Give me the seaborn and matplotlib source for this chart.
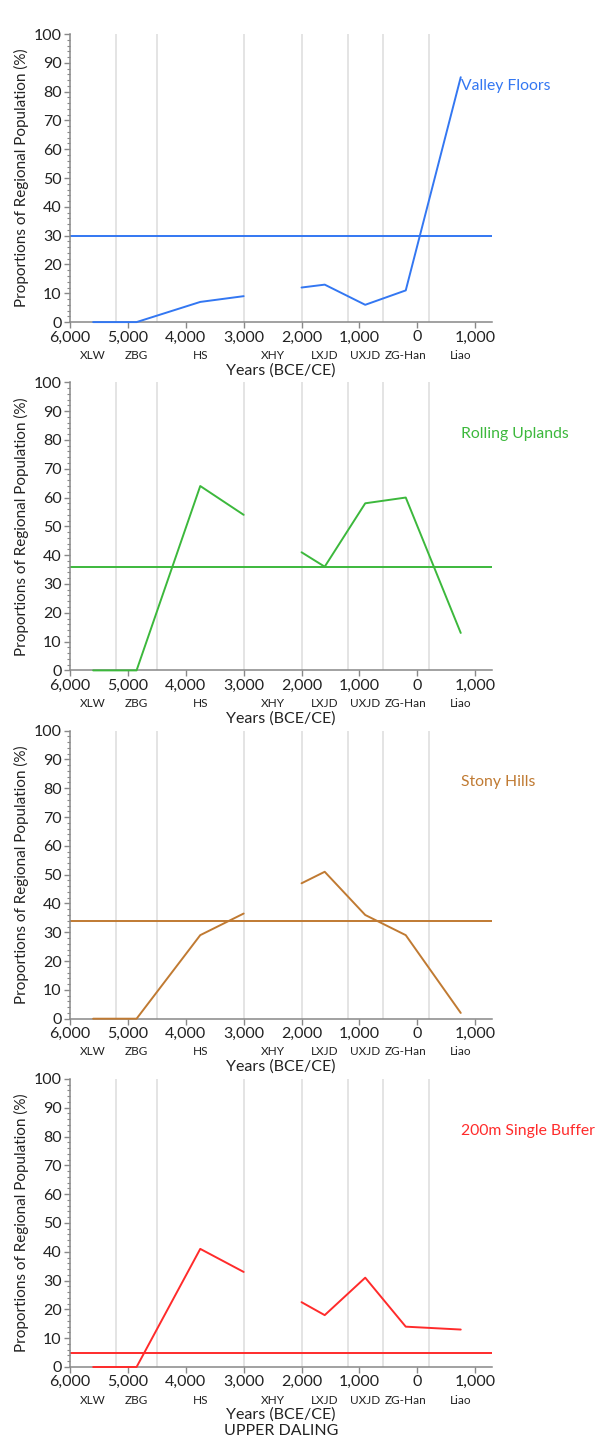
import matplotlib
matplotlib.use("Agg")
import matplotlib.pyplot as plt
from matplotlib.ticker import MultipleLocator, FuncFormatter
import numpy as np
import pandas as pd
import seaborn as sns

# periods (names, boundaries in years BCE<0 / CE>0, label positions)
periods = ["XLW", "ZBG", "HS", "XHY", "LXJD", "UXJD", "ZG-Han", "Liao"]
period_mid = [-5600, -4850, -3750, -2500, -1600, -900, -200, 750]
period_bounds = [-5200, -4500, -3000, -2000, -1200, -600, 200]

# points: XLW, ZBG, HS, end of HS | start of LXJD, LXJD, UXJD, ZG-Han, Liao
years = [-5600, -4850, -3750, -3000, -2000, -1600, -900, -200, 750]
segment = [1, 1, 1, 1, 2, 2, 2, 2, 2]

zones = ["Valley Floors", "Rolling Uplands", "Stony Hills", "200m Single Buffer"]
valley_floors = [0, 0, 7, 9, 12, 13, 6, 11, 85]
rolling_uplands = [0, 0, 64, 54, 41, 36, 58, 60, 13]
stony_hills = [0, 0, 29, 36.5, 47, 51, 36, 29, 2]
single_buffer = [0, 0, 41, 33, 22.5, 18, 31, 14, 13]
zone_share = [30, 36, 34, 5]   # share of regional area (horizontal lines)
colors = ["#3377f2", "#3cb83c", "#c07a32", "#ff2b2b"]

series = [valley_floors, rolling_uplands, stony_hills, single_buffer]

sns.set_style("white")
plt.rcParams["font.family"] = ["Lato", "DejaVu Sans"]

fig, axes = plt.subplots(4, 1, figsize=(6, 14.48), dpi=100)
fig.subplots_adjust(left=70/600, right=492/600, top=1-34/1448,
                    bottom=1-1367/1448, hspace=0.209)

for i, ax in enumerate(axes):
    df = pd.DataFrame({"year": years, "pct": series[i], "seg": segment})
    for b in period_bounds:
        ax.axvline(b, color="#e2e2e2", lw=1.3, zorder=0)
    sns.lineplot(data=df, x="year", y="pct", units="seg", estimator=None,
                 color=colors[i], lw=1.4, ax=ax)
    for ln in ax.get_lines()[-2:]:
        ln.set_clip_on(False)
        ln.set_zorder(4)
    ax.axhline(zone_share[i], color=colors[i], lw=1.4, zorder=2)
    ax.text(years[-1] + 10, 82, zones[i], color=colors[i], fontsize=11.3,
            ha="left", va="center", clip_on=False)

    ax.set_xlim(-6000, 1290)
    ax.set_ylim(0, 100)
    ax.set_xticks(range(-6000, 1001, 1000))
    ax.xaxis.set_major_formatter(FuncFormatter(lambda v, p: f"{abs(int(v)):,}"))
    ax.yaxis.set_major_locator(MultipleLocator(10))
    ax.yaxis.set_minor_locator(MultipleLocator(2))
    ax.tick_params(axis="both", which="major", direction="out", length=4,
                   width=1, color="#888888", labelsize=11.5, labelcolor="#222222", pad=2)
    ax.tick_params(axis="y", which="minor", direction="out", length=2.5,
                   width=0.8, color="#888888", left=True)
    ax.tick_params(axis="x", bottom=True)
    ax.tick_params(axis="y", left=True)
    for s in ["top", "right"]:
        ax.spines[s].set_visible(False)
    for s in ["left", "bottom"]:
        ax.spines[s].set_color("#888888")
        ax.spines[s].set_linewidth(1.1)
    ax.set_xlabel("")
    ax.set_ylabel("Proportions of Regional Population (%)", fontsize=11,
                  color="#222222", labelpad=3)

    sec = ax.secondary_xaxis("bottom")
    sec.set_xticks(period_mid, periods)
    sec.tick_params(length=0, pad=20, labelsize=8.5, labelcolor="#222222")
    sec.spines["bottom"].set_visible(False)
    xl = "Years (BCE/CE)"
    if i == len(axes) - 1:
        xl += "\nUPPER DALING"
    sec.set_xlabel(xl, fontsize=11.5, color="#222222", labelpad=1.5, linespacing=1.2)

fig.savefig("out.png", dpi=100, facecolor="white")
